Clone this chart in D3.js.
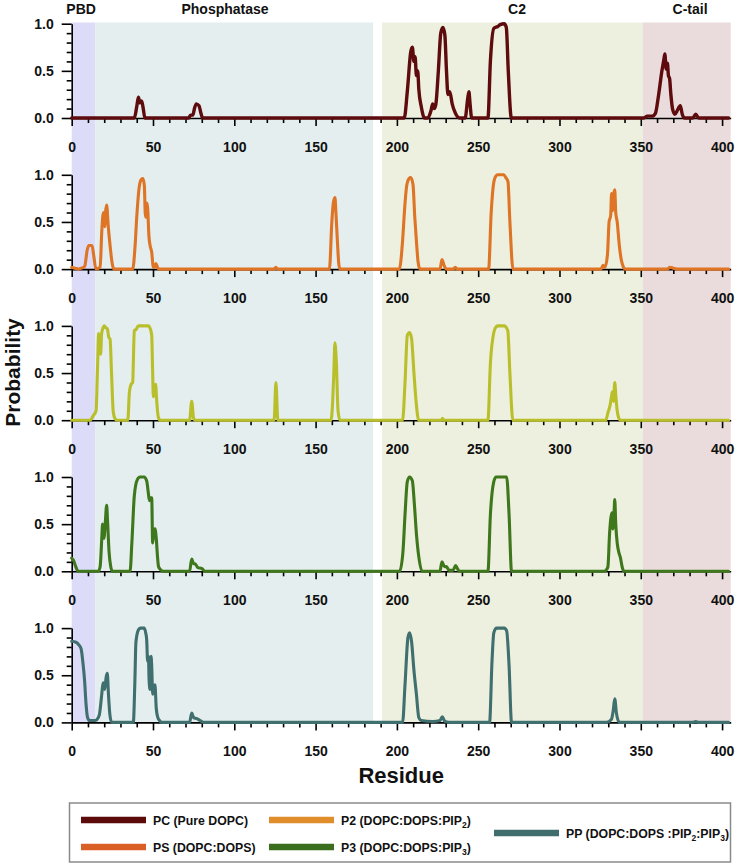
<!DOCTYPE html>
<html>
<head>
<meta charset="utf-8">
<script src="https://cdn.jsdelivr.net/npm/d3@7"></script>
<style>
  html, body { margin: 0; padding: 0; background: #ffffff; }
  svg { display: block; font-family: "Liberation Sans", Arial, sans-serif; }
</style>
</head>
<body>
<svg id="chart" width="736" height="864"></svg>
<script>
// ---------------- DATA ----------------
const regionNames = ["PBD", "Phosphatase", "C2", "C-tail"];
const regionStart = [0, 14.4, 190.9, 351.3];
const regionEnd = [14.4, 185.3, 351.3, 405.3];
const regionLabelX = [5.8, 94.3, 273.9, 380.3];

const seriesNames = ["PC (Pure DOPC)", "PS (DOPC:DOPS)", "P2 (DOPC:DOPS:PIP2)", "P3 (DOPC:DOPS:PIP3)", "PP (DOPC:DOPS :PIP2:PIP3)"];

const xTickValues = [0, 50, 100, 150, 200, 250, 300, 350, 400];
const yTickValues = [0, 0.5, 1.0];

// [residue, probability]
const pcData = [[0,0],[38.5,0],[40,0.12],[41,0.22],[42,0.16],[43,0.18],[44,0.1],[45,0],[72,0],[73,0.03],[74.5,0.03],[75.5,0.1],[76.6,0.15],[78.3,0.13],[79.5,0.05],[80.5,0],
  [204.5,0],[206.5,0.3],[208.5,0.7],[209.5,0.75],[210.5,0.6],[211.2,0.65],[212,0.45],[212.8,0.5],[213.5,0.3],[215,0.12],[217,0],[219,0],[221,0.08],[222,0.15],[223,0.1],[224,0.15],[225.5,0.5],[227,0.9],[228.3,0.96],[229.5,0.88],[230.5,0.5],[231.4,0.25],[232.5,0.28],[234,0.15],[236,0.05],[238.5,0],[242,0],[243.5,0.2],[244.3,0.28],[245,0.15],[246,0],
  [256,0],[257.5,0.6],[259.6,0.95],[262,0.97],[263.5,0.99],[266,1.0],[267.3,0.96],[268.5,0.5],[270.4,0],[352,0],[354,0.02],[357,0.02],[359,0.05],[361,0.25],[363,0.5],[364.2,0.62],[364.8,0.68],[365.6,0.52],[366.4,0.58],[367,0.45],[367.7,0.42],[368.5,0.25],[369.5,0.1],[371,0.04],[372.5,0.08],[374.3,0.13],[375.5,0.04],[377,0],[382,0],[383.8,0.04],[385.5,0],[404,0]];

const psData = [[0,0.02],[2,0.01],[4,0],[6,0.01],[8,0.03],[9.5,0.2],[10.5,0.25],[12.5,0.25],[13.5,0.15],[14.9,0],[17.5,0.02],[18.5,0.4],[19.5,0.6],[20.3,0.45],[20.8,0.6],[21.5,0.68],[22.5,0.45],[23.6,0.25],[25,0.05],[26,0],
  [37.5,0],[39,0.25],[40,0.55],[41.6,0.88],[42.8,0.95],[43.8,0.96],[44.7,0.88],[45.2,0.6],[45.6,0.55],[46.2,0.7],[46.7,0.65],[47.5,0.35],[48.2,0.25],[49.2,0.18],[50.2,0.02],[51,0.02],[51.8,0.06],[52.5,0.03],[53.5,0],
  [124.5,0],[125.6,0.02],[126.5,0],[158.5,0],[160,0.5],[160.9,0.7],[161.9,0.76],[162.5,0.6],[163.4,0.3],[164.3,0.05],[165,0],
  [201.5,0],[203.5,0.3],[204.8,0.65],[206,0.88],[207.5,0.96],[208.5,0.97],[209.9,0.9],[211,0.55],[212,0.3],[213,0.08],[214.2,0],[226.5,0],[227.7,0.1],[229,0.04],[230.4,0],[234.5,0],[235.9,0.02],[237,0],
  [256.4,0],[258,0.6],[259.6,0.92],[261,0.99],[262.1,1.0],[265.8,1.0],[267,0.97],[268.3,0.93],[269.5,0.5],[271.4,0],
  [325.5,0],[326.8,0.04],[328,0.02],[329.5,0.15],[330.5,0.5],[331.5,0.57],[332,0.8],[332.6,0.62],[333.2,0.78],[334,0.84],[334.6,0.6],[335.5,0.5],[336.8,0.25],[338,0.1],[338.9,0.04],[340.3,0],[366.5,0],[367.7,0.02],[370,0.01],[372,0],[404,0]];

const p2Data = [[0,0],[11.3,0],[13.3,0.05],[15,0.1],[15.8,0.5],[16.6,0.92],[17.2,0.85],[17.8,0.7],[18.4,0.92],[19.3,0.98],[20,1.0],[21,0.98],[21.9,0.97],[22.8,0.88],[23.6,0.86],[24.5,0.5],[25.5,0.1],[26.5,0.02],[27.7,0],
  [34.5,0],[35.5,0.3],[36.5,0.38],[37.5,0.4],[38.5,0.95],[39.5,0.96],[41,1.0],[47.1,1.0],[48.3,0.97],[49.2,0.9],[49.8,0.5],[50.2,0.25],[51,0.3],[51.6,0.38],[52.3,0.2],[53.3,0.03],[54.5,0],
  [72.5,0],[73.8,0.2],[75,0.02],[76,0],[124.5,0],[125.6,0.4],[126.8,0],[159.5,0],[160.5,0.2],[161.2,0.5],[161.9,0.82],[162.8,0.6],[163.8,0.1],[165,0],
  [203.5,0],[205,0.4],[206.4,0.9],[207.8,0.93],[209,0.87],[210.5,0.5],[211.8,0.2],[213.4,0],[227.5,0],[228,0.02],[229,0],
  [256,0],[257.5,0.6],[259.6,0.93],[261,0.99],[262.2,1.0],[266,1.0],[268.2,0.95],[269.5,0.5],[271.3,0],
  [328.5,0],[329.8,0.08],[331,0.15],[332,0.25],[332.5,0.3],[333.2,0.2],[334,0.4],[334.7,0.25],[335.5,0.1],[336.5,0.02],[337.4,0],[404,0]];

const p3Data = [[0,0.14],[1,0.12],[2.5,0.05],[3.9,0],[16.4,0],[17.5,0.05],[18.5,0.35],[19,0.5],[19.8,0.35],[20.6,0.5],[21.5,0.7],[22,0.55],[23,0.2],[24,0.05],[25,0],
  [35.9,0],[37,0.3],[38.5,0.8],[40.3,0.97],[42,1.0],[44.5,1.0],[46.1,0.96],[47,0.85],[47.8,0.75],[48.5,0.78],[49.2,0.78],[49.8,0.3],[50.5,0.42],[51.2,0.45],[52,0.35],[52.8,0.15],[53.4,0.05],[54.5,0.02],[56.3,0],
  [72.5,0],[73.8,0.13],[75,0.08],[75.9,0.08],[77.5,0.04],[79.9,0.03],[82,0],
  [201.7,0],[203.7,0.2],[205,0.6],[206.4,0.95],[207.8,1.0],[209.5,0.96],[210.8,0.7],[212,0.4],[213.5,0.15],[215.5,0],[226.5,0],[227.7,0.1],[229.3,0.05],[230.5,0.05],[232,0.01],[234.5,0.01],[236.1,0.06],[237.5,0.02],[238.5,0],
  [256,0],[257.5,0.6],[259.6,0.95],[261,1.0],[267.5,1.0],[269,0.6],[270.5,0],
  [327.5,0],[329,0.02],[329.8,0.05],[330.8,0.4],[331.5,0.55],[332.2,0.62],[332.8,0.45],[333.5,0.6],[334,0.76],[334.6,0.5],[335.5,0.3],[336.5,0.2],[337.4,0.15],[338.5,0.05],[339.5,0],[404,0]];

const ppData = [[0,0.86],[2.6,0.85],[4.5,0.82],[5.8,0.78],[6.8,0.65],[7.9,0.45],[8.8,0.2],[9.8,0.05],[11,0.02],[14.3,0.02],[15.5,0.03],[17,0.08],[18.5,0.3],[19.3,0.42],[20.3,0.35],[21.2,0.48],[21.9,0.52],[22.6,0.3],[23.5,0.08],[24.6,0],
  [37.9,0],[38.8,0.4],[39.5,0.85],[41,0.98],[42.2,1.0],[44.5,1.0],[45.5,0.95],[46.1,0.88],[46.7,0.65],[47.2,0.7],[47.6,0.45],[48.2,0.35],[48.8,0.7],[49.2,0.6],[49.8,0.3],[50.5,0.38],[51.2,0.4],[52,0.15],[53,0.05],[54,0.02],[55.4,0],
  [72.5,0],[73.8,0.1],[75,0.05],[77,0.04],[79,0.02],[81,0],
  [203.5,0],[205,0.4],[206.8,0.9],[207.8,0.95],[209,0.86],[210.5,0.55],[212,0.3],[213.5,0.05],[215,0.02],[222,0.01],[226.5,0.02],[227.9,0.06],[229.5,0.01],[232,0],
  [257,0],[258.5,0.65],[259.6,0.95],[261.3,1.0],[266,1.0],[267.5,0.97],[269,0.6],[270.5,0],
  [329,0],[331.9,0.03],[333,0.12],[334,0.25],[335,0.1],[336.8,0],[382,0],[383.8,0.01],[385.5,0],[404,0]];

const panelSeries = [pcData, psData, p2Data, p3Data, ppData];

// ---------------- STYLE ----------------
const panelColors = ["#5e0b0e", "#de7426", "#b9bf2a", "#3f771c", "#3f6f6e"];
const legendColors = ["#5c0a0a", "#d95f27", "#df8e2b", "#3b6e1c", "#3f6e6c"];
const regionColors = ["#dcdbf8", "#e4eeee", "#eef0df", "#eadcdc"];

const svg = d3.select("#chart");
const left = 71.7, right = 730.7;
const panelZero0 = 118, panelStep = 151.1, panelH = 94.3;
const bandTop = 22.5;
const nPanels = 5;
const bandBottom = panelZero0 + (nPanels - 1) * panelStep;

const x = d3.scaleLinear().domain([0, 405.3]).range([left, right]);

// background bands
svg.append("g").selectAll("rect")
  .data(regionNames)
  .join("rect")
  .attr("x", (d, i) => x(regionStart[i]))
  .attr("width", (d, i) => x(regionEnd[i]) - x(regionStart[i]))
  .attr("y", bandTop)
  .attr("height", bandBottom - bandTop)
  .attr("fill", (d, i) => regionColors[i]);

// region labels
svg.append("g").selectAll("text")
  .data(regionNames)
  .join("text")
  .attr("x", (d, i) => x(regionLabelX[i]))
  .attr("y", 14)
  .attr("text-anchor", "middle")
  .attr("font-size", 14)
  .attr("font-weight", "bold")
  .attr("fill", "#111")
  .text(d => d);

const minorX = d3.range(0, 401, 10).filter(v => v % 50 !== 0);
const minorY = d3.range(0, 11).map(v => v / 10).filter(v => v !== 0 && v !== 0.5 && v !== 1);

function styleAxis(g) {
  g.selectAll("path.domain").attr("stroke", "#000").attr("stroke-width", 1.6);
  g.selectAll(".tick line").attr("stroke", "#000").attr("stroke-width", 1.6);
  g.selectAll(".tick text")
    .attr("font-family", "'Liberation Sans', Arial, sans-serif")
    .attr("font-size", 14).attr("font-weight", "bold").attr("fill", "#111");
}

panelSeries.forEach((data, i) => {
  const zero = panelZero0 + i * panelStep;
  const y = d3.scaleLinear().domain([0, 1]).range([zero, zero - panelH]);
  const g = svg.append("g");

  g.append("g").attr("transform", `translate(0,${zero})`)
    .call(d3.axisBottom(x).tickValues(minorX).tickSize(5).tickFormat("").tickSizeOuter(0))
    .call(styleAxis)
    .call(a => a.select("path.domain").remove());
  g.append("g").attr("transform", `translate(0,${zero})`)
    .call(d3.axisBottom(x).tickValues(xTickValues).tickSize(8).tickPadding(16).tickSizeOuter(0).tickFormat(d3.format("d")))
    .call(styleAxis);

  g.append("g").attr("transform", `translate(${left},0)`)
    .call(d3.axisLeft(y).tickValues(minorY).tickSize(5).tickFormat("").tickSizeOuter(0))
    .call(styleAxis)
    .call(a => a.select("path.domain").remove());
  g.append("g").attr("transform", `translate(${left},0)`)
    .call(d3.axisLeft(y).tickValues(yTickValues).tickSize(10).tickPadding(8).tickSizeOuter(0).tickFormat(d3.format(".1f")))
    .call(styleAxis);

  const line = d3.line()
    .x(d => x(d[0]))
    .y(d => y(d[1]))
    .curve(d3.curveMonotoneX);

  g.append("path")
    .datum(data)
    .attr("d", line)
    .attr("fill", "none")
    .attr("stroke", panelColors[i])
    .attr("stroke-width", i === 0 ? 3.4 : 3.1)
    .attr("stroke-linejoin", "round")
    .attr("stroke-linecap", "round");
});

// axis titles
svg.append("text")
  .attr("x", (left + right) / 2)
  .attr("y", 783)
  .attr("text-anchor", "middle")
  .attr("font-size", 22)
  .attr("font-weight", "bold")
  .attr("fill", "#111")
  .text("Residue");

svg.append("text")
  .attr("transform", `translate(20,${(bandTop + bandBottom) / 2}) rotate(-90)`)
  .attr("text-anchor", "middle")
  .attr("font-size", 21)
  .attr("font-weight", "bold")
  .attr("fill", "#111")
  .text("Probability");

// legend
const lg = svg.append("g");
lg.append("rect")
  .attr("x", 69.5).attr("y", 803).attr("width", 661).attr("height", 59)
  .attr("fill", "#fff").attr("stroke", "#8a8a8a").attr("stroke-width", 1.5);

const legendPos = [[81, 820], [81, 847], [269, 820], [269, 847], [494, 833]];
const legendLen = 65;

seriesNames.forEach((name, i) => {
  const [lx, ly] = legendPos[i];
  lg.append("line")
    .attr("x1", lx).attr("x2", lx + legendLen)
    .attr("y1", ly).attr("y2", ly)
    .attr("stroke", legendColors[i]).attr("stroke-width", 6.5);
  const t = lg.append("text")
    .attr("x", lx + legendLen + 7)
    .attr("y", ly + 4.5)
    .attr("font-size", 12.3)
    .attr("font-weight", "bold")
    .attr("fill", "#111");
  // render PIP2 / PIP3 with subscripts; restore baseline on the following piece
  const parts = name.split(/(PIP[23])/).filter(p => p.length);
  let pendingDy = 0;
  parts.forEach(p => {
    if (/^PIP[23]$/.test(p)) {
      t.append("tspan").attr("dy", pendingDy).text("PIP");
      t.append("tspan").attr("font-size", 8.5).attr("dy", 3).text(p[3]);
      pendingDy = -3;
    } else {
      t.append("tspan").attr("dy", pendingDy).text(p);
      pendingDy = 0;
    }
  });
});
</script>
</body>
</html>
